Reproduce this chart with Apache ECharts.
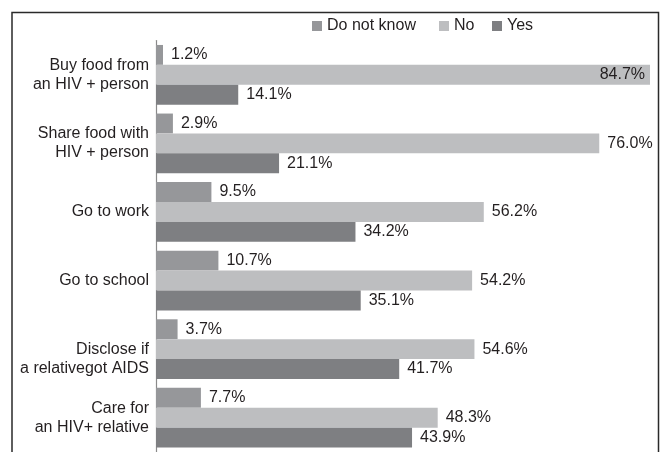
<!DOCTYPE html>
<html>
<head>
<meta charset="utf-8">
<script src="https://cdn.jsdelivr.net/npm/echarts@6/dist/echarts.min.js"></script>
<style>
  html, body { margin: 0; padding: 0; background: #fff; }
  #chart { width: 661px; height: 452px; }
</style>
</head>
<body>
<div id="chart"></div>
<script>
// Attitudes towards people living with HIV (% of respondents)
const categories = [
  'Buy food from\nan HIV + person',
  'Share food with\nHIV + person',
  'Go to work',
  'Go to school',
  'Disclose if\na relativegot AIDS',
  'Care for\nan HIV+ relative'
];
const seriesNames = ['Do not know', 'No', 'Yes'];
const doNotKnow = [1.2, 2.9, 9.5, 10.7, 3.7, 7.7];
const no = [84.7, 76.0, 56.2, 54.2, 54.6, 48.3];
const yes = [14.1, 21.1, 34.2, 35.1, 41.7, 43.9];
const colors = ['#96979a', '#bdbec0', '#7e7f82'];

const FONT = '"Liberation Sans", Arial, Helvetica, sans-serif';
const TEXT = '#231f20';

const chart = echarts.init(document.getElementById('chart'), null, { renderer: 'canvas' });

function makeSeries(name, values, color, insideIdx) {
  return {
    name: name,
    type: 'bar',
    barGap: '0%',
    barCategoryGap: '13%',
    itemStyle: { color: color },
    label: {
      show: true,
      position: 'right',
      distance: 8,
      color: TEXT,
      fontFamily: FONT,
      fontSize: 16,
      formatter: p => p.value.toFixed(1) + '%'
    },
    data: values.map((v, i) => (i === insideIdx
      ? { value: v, label: { position: 'insideRight', distance: 5 } }
      : v)),
    silent: true,
    animation: false
  };
}

// the longest bar carries its label inside
const noMax = no.indexOf(Math.max(...no));

// one legend per entry so each sits at its own spot
const legendLefts = [312, 439, 492];
const legends = seriesNames.map((n, i) => ({
  data: [n],
  left: legendLefts[i],
  top: 18,
  padding: 0,
  itemWidth: 10,
  itemHeight: 10,
  itemGap: 0,
  icon: 'rect',
  textStyle: { color: TEXT, fontFamily: FONT, fontSize: 16 },
  selectedMode: false
}));

const option = {
  backgroundColor: '#ffffff',
  animation: false,
  color: colors,
  legend: legends,
  grid: { left: 156, top: 40.5, width: 494, height: 414, containLabel: false },
  xAxis: {
    type: 'value',
    min: 0,
    max: 'dataMax',
    show: false
  },
  yAxis: {
    type: 'category',
    inverse: true,
    data: categories,
    axisLine: { show: true, lineStyle: { color: '#8a8a8a', width: 1.2 } },
    axisTick: { show: false },
    axisLabel: {
      color: TEXT,
      fontFamily: FONT,
      fontSize: 16,
      lineHeight: 19,
      margin: 7,
      align: 'right',
      // the "Disclose" label sits half a line lower than its bars
      formatter: (v, i) => (i === 4 ? '\n' + v : v)
    }
  },
  series: [
    makeSeries(seriesNames[0], doNotKnow, colors[0], -1),
    makeSeries(seriesNames[1], no, colors[1], noMax),
    makeSeries(seriesNames[2], yes, colors[2], -1)
  ],
  graphic: [{
    type: 'rect',
    silent: true,
    shape: { x: 12, y: 12.5, width: 646.5, height: 470 },
    style: { fill: 'none', stroke: '#2a2a2a', lineWidth: 1.5 }
  }]
};

chart.setOption(option);
</script>
</body>
</html>
